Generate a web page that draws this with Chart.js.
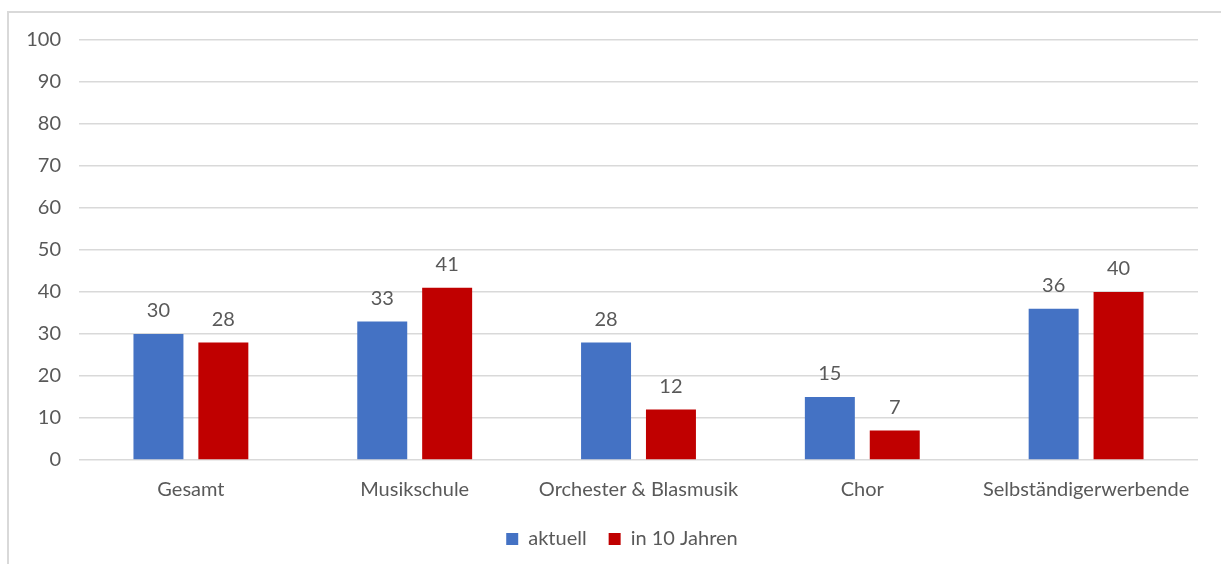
<!DOCTYPE html>
<html>
<head>
<meta charset="utf-8">
<script src="https://cdn.jsdelivr.net/npm/chart.js@4.4.0/dist/chart.umd.min.js"></script>
<style>
  html, body { margin: 0; padding: 0; background: #fff; }
  #wrap { position: relative; width: 1221px; height: 564px; overflow: hidden; }
  #frame { position: absolute; left: 7px; top: 11px; right: -10px; bottom: -10px;
           border-top: 2px solid #d9d9d9; border-left: 2px solid #d9d9d9; box-sizing: border-box; }
  canvas { position: absolute; left: 0; top: 0; }
</style>
</head>
<body>
<div id="wrap">
  <div id="frame"></div>
  <canvas id="c" width="1221" height="564"></canvas>
</div>
<script>
const categories = ["Gesamt", "Musikschule", "Orchester & Blasmusik", "Chor", "Selbständigerwerbende"];
const seriesNames = ["aktuell", "in 10 Jahren"];
const aktuell = [30, 33, 28, 15, 36];
const in10Jahren = [28, 41, 12, 7, 40];
const yTicks = [0, 10, 20, 30, 40, 50, 60, 70, 80, 90, 100];

const FONT = "Lato, 'Open Sans', sans-serif";
const TXT = "#595959";

const valueLabels = {
  id: 'valueLabels',
  afterDatasetsDraw(chart) {
    const ctx = chart.ctx;
    ctx.save();
    ctx.font = "20px " + FONT;
    ctx.fillStyle = TXT;
    ctx.textAlign = 'center';
    ctx.textBaseline = 'middle';
    chart.data.datasets.forEach((ds, i) => {
      chart.getDatasetMeta(i).data.forEach((bar, j) => {
        ctx.fillText(String(ds.data[j]), bar.x, bar.y - 23);
      });
    });
    ctx.restore();
  }
};

const shiftLegend = {
  id: 'shiftLegend',
  afterLayout(chart) {
    if (chart.legend) {
      chart.legend.left += 23;
      chart.legend.right += 23;
    }
  }
};

new Chart(document.getElementById('c'), {
  type: 'bar',
  data: {
    labels: categories,
    datasets: [
      { label: seriesNames[0], data: aktuell, backgroundColor: '#4472C4' },
      { label: seriesNames[1], data: in10Jahren, backgroundColor: '#C00000' }
    ]
  },
  options: {
    responsive: false,
    animation: false,
    datasets: { bar: { categoryPercentage: 0.58, barPercentage: 0.77 } },
    layout: { padding: { top: 40, right: 23, bottom: 5, left: 0 } },
    plugins: {
      tooltip: { enabled: false },
      legend: {
        position: 'bottom',
        labels: {
          font: { family: FONT, size: 20 },
          color: TXT,
          boxWidth: 12,
          boxHeight: 12,
          padding: 22
        }
      }
    },
    scales: {
      x: {
        grid: { display: false },
        border: { display: false },
        ticks: { font: { family: FONT, size: 20 }, color: TXT, padding: 10, maxRotation: 0, autoSkip: false },
        afterFit(scale) { scale.height = 47; }
      },
      y: {
        min: 0, max: 100,
        afterBuildTicks(scale) { scale.ticks = yTicks.map(v => ({ value: v })); },
        grid: { color: '#d9d9d9', lineWidth: 1.5, drawTicks: false },
        border: { display: false },
        ticks: { font: { family: FONT, size: 20 }, color: TXT, padding: 18 },
        afterFit(scale) { scale.width = 79; }
      }
    }
  },
  plugins: [valueLabels, shiftLegend]
});
</script>
</body>
</html>
